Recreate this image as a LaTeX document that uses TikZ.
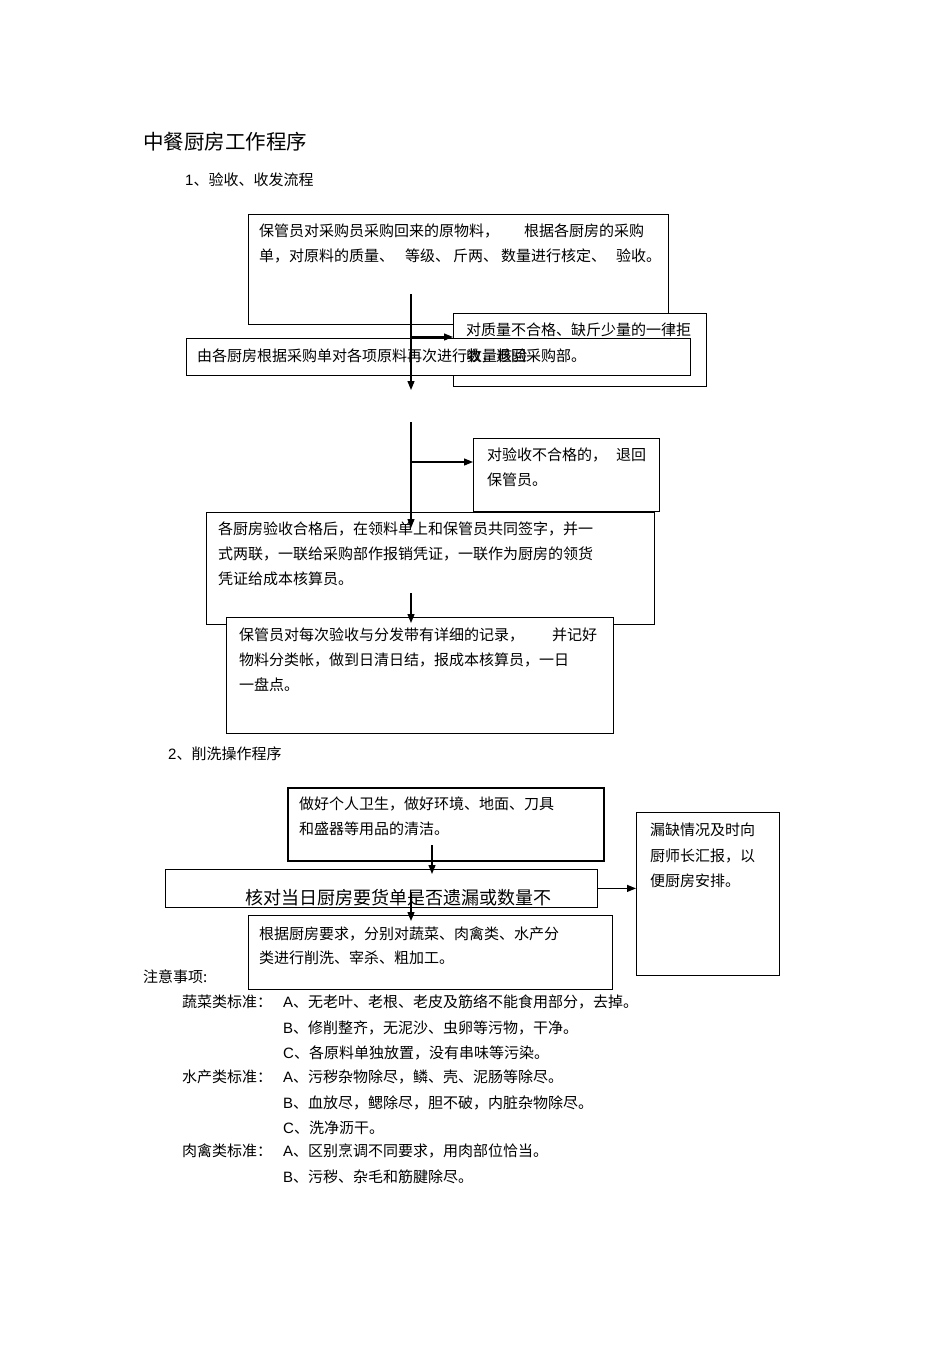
\documentclass[tikz,border=0pt]{standalone}
\usepackage{fontspec}
\setmainfont{Noto Sans CJK SC}
\newfontfamily\lat{Liberation Sans}
\usetikzlibrary{arrows.meta}
\begin{document}
\begin{tikzpicture}[x=1pt,y=-1pt,
  box/.style={draw=black,line width=0.8pt,fill=white,inner sep=0pt,anchor=north west},
  thickbox/.style={box,line width=1.5pt},
  txt/.style={anchor=base west,inner sep=0pt,font=\fontsize{15}{18}\selectfont},
  bigtxt/.style={anchor=base west,inner sep=0pt,font=\fontsize{18}{21}\selectfont},
  titletxt/.style={anchor=base west,inner sep=0pt,font=\fontsize{20.5}{24}\selectfont},
  arr/.style={line width=1.2pt,-{Triangle[length=9pt,width=7pt]}}]
\useasboundingbox (0,0) rectangle (950,1345);

% ---------- titles ----------
\node[titletxt] (title) at (143,149) {中餐厨房工作程序};
\node[txt] (sec1) at (185,185.5) {{\lat 1}、验收、收发流程};

% ---------- section 1 boxes ----------
\node[box,minimum width=420pt,minimum height=110pt] (A) at (248,214) {};
\node[box,line width=1.3pt,minimum width=253pt,minimum height=73pt] (B) at (453,313) {};
\node[box,minimum width=504pt,minimum height=37pt] (C) at (186,338) {};

\node[txt] (a1) at (259,236.5) {保管员对采购员采购回来的原物料，\hspace{25pt}根据各厨房的采购};
\node[txt] (a2) at (259,261.5) {单，对原料的质量、\hspace{11pt}等级、\hspace{3pt}斤两、\hspace{3pt}数量进行核定、\hspace{10pt}验收。};
\node[txt] (b1) at (466,335.5) {对质量不合格、缺斤少量的一律拒};
\node[txt] (b2) at (466,361) {收，退回采购部。};
\node[txt] (c1) at (197,361) {由各厨房根据采购单对各项原料再次进行数量核验};

\coordinate (s1) at (411,294);
\coordinate (e1) at (411,390);
\coordinate (br1) at (411,337);
\draw[arr] (s1) -- (e1);
\draw[arr] (br1) -- (br1 -| B.west);

\node[box,minimum width=186pt,minimum height=73pt] (D) at (473,438) {};
\node[box,minimum width=448pt,minimum height=112pt] (E) at (206,512) {};
\node[box,minimum width=387pt,minimum height=116pt] (F) at (226,617) {};

\node[txt] (d1) at (487,460.5) {对验收不合格的，\hspace{9pt}退回};
\node[txt] (d2) at (487,485.5) {保管员。};
\node[txt] (e1t) at (218,534.5) {各厨房验收合格后，在领料单上和保管员共同签字，并一};
\node[txt] (e2t) at (218,559.5) {式两联，一联给采购部作报销凭证，一联作为厨房的领货};
\node[txt] (e3t) at (218,584.5) {凭证给成本核算员。};
\node[txt] (f1) at (239,640.5) {保管员对每次验收与分发带有详细的记录，\hspace{28pt}并记好};
\node[txt] (f2) at (239,665.5) {物料分类帐，做到日清日结，报成本核算员，一日};
\node[txt] (f3) at (239,690.5) {一盘点。};

\coordinate (s2) at (411,422);
\coordinate (e2) at (411,528);
\coordinate (br2) at (411,462);
\draw[arr] (s2) -- (e2);
\draw[arr] (br2) -- (br2 -| D.west);
\coordinate (s3) at (411,593);
\coordinate (e3) at (411,623);
\draw[arr] (s3) -- (e3);

% ---------- section 2 ----------
\node[txt] (sec2) at (168,759.5) {{\lat 2}、削洗操作程序};

\node[thickbox,minimum width=316pt,minimum height=73pt] (G) at (287,787) {};
\node[box,minimum width=432pt,minimum height=38pt] (H) at (165,869) {};
\node[box,minimum width=364pt,minimum height=74pt] (I) at (248,915) {};
\node[box,minimum width=143pt,minimum height=163pt] (J) at (636,812) {};

\node[txt] (g1) at (299,809.5) {做好个人卫生，做好环境、地面、刀具};
\node[txt] (g2) at (299,834.5) {和盛器等用品的清洁。};
\node[bigtxt] (h1) at (245,904) {核对当日厨房要货单是否遗漏或数量不};
\node[txt] (i1) at (259,939.5) {根据厨房要求，分别对蔬菜、肉禽类、水产分};
\node[txt] (i2) at (259,963.5) {类进行削洗、宰杀、粗加工。};
\node[txt] (j1) at (650,835.5) {漏缺情况及时向};
\node[txt] (j2) at (650,861.5) {厨师长汇报，以};
\node[txt] (j3) at (650,886.5) {便厨房安排。};

\coordinate (s4) at (432,845);
\coordinate (e4) at (432,874);
\draw[arr] (s4) -- (e4);
\coordinate (s5) at (411,893);
\coordinate (e5) at (411,921);
\draw[arr] (s5) -- (e5);
\draw[arr] (H.east) -- (H.east -| J.west);

% ---------- notes ----------
\node[txt] (note) at (143,982.5) {注意事项:};
\node[txt] (l1) at (182,1007.5) {蔬菜类标准：};
\node[txt] (n1) at (283,1007.5) {{\lat A}、无老叶、老根、老皮及筋络不能食用部分，去掉。};
\node[txt] (n2) at (283,1033.5) {{\lat B}、修削整齐，无泥沙、虫卵等污物，干净。};
\node[txt] (n3) at (283,1058.5) {{\lat C}、各原料单独放置，没有串味等污染。};
\node[txt] (l2) at (182,1082.5) {水产类标准：};
\node[txt] (n4) at (283,1082.5) {{\lat A}、污秽杂物除尽，鳞、壳、泥肠等除尽。};
\node[txt] (n5) at (283,1108.5) {{\lat B}、血放尽，鳃除尽，胆不破，内脏杂物除尽。};
\node[txt] (n6) at (283,1133.5) {{\lat C}、洗净沥干。};
\node[txt] (l3) at (182,1156.5) {肉禽类标准：};
\node[txt] (n7) at (283,1156.5) {{\lat A}、区别烹调不同要求，用肉部位恰当。};
\node[txt] (n8) at (283,1182.5) {{\lat B}、污秽、杂毛和筋腱除尽。};
\end{tikzpicture}
\end{document}
